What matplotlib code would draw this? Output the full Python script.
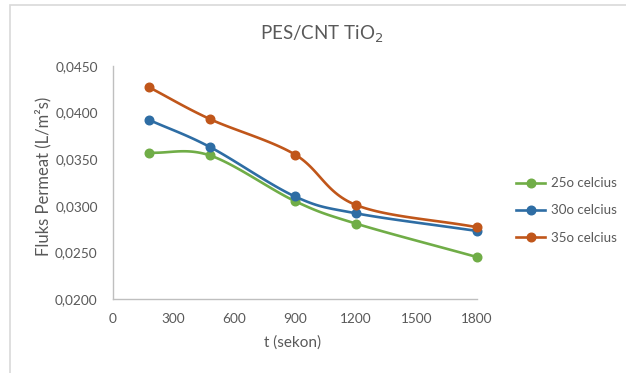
import numpy as np
import matplotlib
matplotlib.use("Agg")
import matplotlib.pyplot as plt
from matplotlib.patches import Rectangle
from matplotlib.lines import Line2D

t = [180, 480, 900, 1200, 1800]
flux_25 = [0.0357, 0.0354, 0.0305, 0.0281, 0.0245]
flux_30 = [0.0392, 0.0363, 0.0310, 0.0292, 0.0273]
flux_35 = [0.0427, 0.0393, 0.0355, 0.0301, 0.0277]
labels = ["25o celcius", "30o celcius", "35o celcius"]
colors = ["#70ad47", "#2e6da4", "#c0561a"]
xticks = [0, 300, 600, 900, 1200, 1500, 1800]
yticks = [0.0200, 0.0250, 0.0300, 0.0350, 0.0400, 0.0450]

def smooth(x, y, n=30):
    # Catmull-Rom spline through the data points (rendering only)
    x = np.asarray(x, float); y = np.asarray(y, float)
    px = np.concatenate([[2*x[0]-x[1]], x, [2*x[-1]-x[-2]]])
    py = np.concatenate([[2*y[0]-y[1]], y, [2*y[-1]-y[-2]]])
    xs, ys = [], []
    for i in range(1, len(px)-2):
        s = np.linspace(0, 1, n)
        for p, out in ((px, xs), (py, ys)):
            p0, p1, p2, p3 = p[i-1], p[i], p[i+1], p[i+2]
            out.extend(0.5*((2*p1) + (-p0+p2)*s + (2*p0-5*p1+4*p2-p3)*s**2 + (-p0+3*p1-3*p2+p3)*s**3))
    return np.array(xs), np.array(ys)

W, H = 626, 373
fig = plt.figure(figsize=(W/100, H/100), dpi=100)
plt.rcParams['font.family'] = ['Lato', 'DejaVu Sans']
fig.patches.append(Rectangle((10/W, -0.01), 1.0, 1-4.5/H+0.01, transform=fig.transFigure,
                             fill=False, edgecolor="#d9d9d9", linewidth=1.2))

ax = fig.add_axes([113/W, 1-299/H, (477-113)/W, (299-66)/H])
text_c = "#595959"
handles = []
for ys, lab, c in zip([flux_25, flux_30, flux_35], labels, colors):
    sx, sy = smooth(t, ys)
    ax.plot(sx, sy, color=c, lw=1.9, solid_capstyle="round", clip_on=False)
    ax.plot(t, ys, 'o', color=c, ms=6.2, clip_on=False)
    handles.append(Line2D([0], [0], color=c, lw=1.9, marker='o', ms=6.2))

ax.set_xlim(0, 1800)
ax.set_ylim(0.0200, 0.0450)
ax.set_xticks(xticks)
ax.set_yticks(yticks)
ax.set_xticklabels([str(v) for v in xticks])
ax.set_yticklabels([f"{v:.4f}".replace(".", ",") for v in yticks])
ax.tick_params(length=0, labelsize=9.8, colors=text_c)
ax.tick_params(axis="y", pad=11)
ax.tick_params(axis="x", pad=10)
for s in ["top", "right"]:
    ax.spines[s].set_visible(False)
for s in ["left", "bottom"]:
    ax.spines[s].set_color("#bfbfbf")
    ax.spines[s].set_linewidth(1.0)

fig.text(322/W, 1-34/H, "PES/CNT TiO$_2$", ha="center", va="center", fontsize=13.5, color=text_c)
fig.text(43/W, 1-176/H, "Fluks Permeat (L/m²s)", rotation=90, ha="center", va="center",
         fontsize=12, color=text_c)
fig.text(293/W, 1-343/H, "t (sekon)", ha="center", va="center", fontsize=11, color=text_c)

leg = fig.legend(handles, labels, loc="center left", bbox_to_anchor=(504/W, 1-210.5/H),
                 frameon=False, fontsize=9.6, handlelength=2.2, handletextpad=0.4,
                 labelspacing=1.15, labelcolor=text_c)

fig.savefig("out.png", dpi=100)
